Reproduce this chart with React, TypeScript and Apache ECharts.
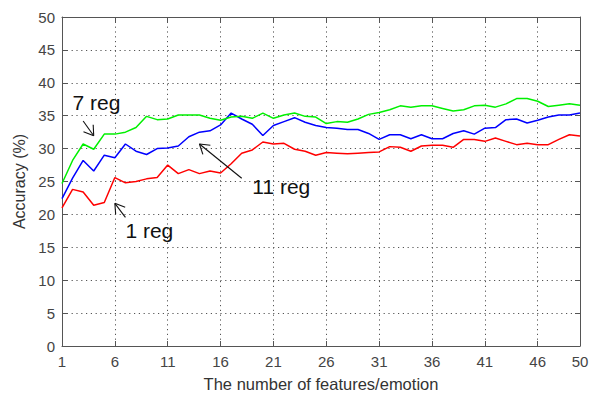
import React, { useEffect, useRef } from 'react';
import * as echarts from 'echarts';

// Number of selected features per emotion (x axis)
const featureCounts = [
  '1', '2', '3', '4', '5', '6', '7', '8', '9', '10',
  '11', '12', '13', '14', '15', '16', '17', '18', '19', '20',
  '21', '22', '23', '24', '25', '26', '27', '28', '29', '30',
  '31', '32', '33', '34', '35', '36', '37', '38', '39', '40',
  '41', '42', '43', '44', '45', '46', '47', '48', '49', '50',
];

// Accuracy (%) for one region
const accuracy1Reg = [
  21.0, 23.8, 23.4, 21.4, 21.8, 25.6, 24.8, 25.0, 25.4, 25.6,
  27.5, 26.2, 26.8, 26.2, 26.6, 26.3, 27.7, 29.3, 29.8, 31.0,
  30.7, 30.8, 29.9, 29.6, 29.0, 29.4, 29.3, 29.2, 29.3, 29.4,
  29.5, 30.3, 30.2, 29.6, 30.4, 30.5, 30.5, 30.2, 31.4, 31.4,
  31.1, 31.6, 31.1, 30.6, 30.8, 30.6, 30.6, 31.4, 32.1, 31.9,
];

// Accuracy (%) for seven regions
const accuracy7Reg = [
  24.7, 28.2, 30.7, 29.9, 32.2, 32.2, 32.5, 33.2, 34.9, 34.4,
  34.5, 35.1, 35.1, 35.1, 34.6, 34.3, 34.8, 34.9, 34.6, 35.4,
  34.6, 35.1, 35.4, 34.9, 34.8, 33.8, 34.1, 34.0, 34.5, 35.2,
  35.5, 35.9, 36.5, 36.3, 36.5, 36.5, 36.1, 35.7, 35.9, 36.5,
  36.6, 36.3, 36.8, 37.6, 37.6, 37.2, 36.4, 36.6, 36.8, 36.6,
];

// Accuracy (%) for eleven regions
const accuracy11Reg = [
  22.4, 25.5, 28.2, 26.6, 29.0, 28.6, 30.7, 29.6, 29.1, 30.0,
  30.1, 30.4, 31.8, 32.5, 32.7, 33.6, 35.4, 34.5, 33.7, 32.0,
  33.5, 34.1, 34.7, 34.0, 33.5, 33.2, 33.1, 32.9, 32.9, 32.3,
  31.4, 32.1, 32.1, 31.5, 32.1, 31.5, 31.5, 32.3, 32.7, 32.2,
  33.1, 33.2, 34.4, 34.5, 33.9, 34.3, 34.8, 35.1, 35.1, 35.4,
];

const yTicks = [0, 50];

// Callout labels with arrows, anchored in data units (feature count, accuracy)
const callouts = [
  { label: '7 reg', at: [1.76, 37.05], from: [3.36, 34.2], to: [4.05, 31.95] },
  { label: '1 reg', at: [7.33, 17.56], from: [7.12, 19.54], to: [5.63, 21.68] },
  { label: '11 reg', at: [18.58, 24.26], from: [18.1, 25.5], to: [14.04, 30.7] },
];

const FONT = '"Liberation Sans", Arial, sans-serif';
const AXIS_COLOR = '#555';
const GRID_DOT = { color: '#555', width: 1, type: [1.2, 3.6] as number[] };

const isMajor = (i: number) => i % 5 === 0 || i === featureCounts.length - 1;
const isGrid = (i: number) => i % 5 === 0 && i > 0 && i < featureCounts.length - 1;

export default function App() {
  const ref = useRef<HTMLDivElement>(null);

  useEffect(() => {
    if (!ref.current) return;
    const chart = echarts.init(ref.current, null, { renderer: 'svg' });

    const xBase = {
      type: 'category' as const,
      data: featureCounts,
      boundaryGap: false,
      axisLine: { show: true, onZero: false, lineStyle: { color: AXIS_COLOR, width: 1 } },
      axisTick: { show: true, inside: true, length: 5, interval: (i: number) => isMajor(i), lineStyle: { color: AXIS_COLOR } },
    };
    const yBase = {
      type: 'value' as const,
      min: yTicks[0],
      max: yTicks[1],
      interval: 5,
      axisLine: { show: true, onZero: false, lineStyle: { color: AXIS_COLOR, width: 1 } },
      axisTick: { show: true, inside: true, length: 5, lineStyle: { color: AXIS_COLOR } },
    };

    const line = (name: string, data: number[], color: string) => ({
      name,
      type: 'line' as const,
      data,
      xAxisIndex: 0,
      yAxisIndex: 0,
      showSymbol: false,
      symbol: 'none',
      lineStyle: { color, width: 1.5 },
      itemStyle: { color },
      z: 3,
    });

    chart.setOption({
      animation: false,
      backgroundColor: '#fff',
      grid: { left: 62, right: 12, top: 17, bottom: 44, containLabel: false },
      xAxis: [
        {
          ...xBase,
          position: 'bottom',
          name: 'The number of features/emotion',
          nameLocation: 'middle',
          nameGap: 29,
          nameTextStyle: { fontFamily: FONT, fontSize: 16.5, color: '#333' },
          axisLabel: {
            interval: (i: number) => isMajor(i),
            fontFamily: FONT,
            fontSize: 15,
            color: '#444',
            margin: 8,
          },
          splitLine: { show: true, interval: (i: number) => isGrid(i), lineStyle: GRID_DOT },
        },
        {
          ...xBase,
          position: 'top',
          axisLabel: { show: false },
          splitLine: { show: false },
        },
      ],
      yAxis: [
        {
          ...yBase,
          position: 'left',
          name: 'Accuracy (%)',
          nameLocation: 'middle',
          nameGap: 33,
          nameRotate: 90,
          nameTextStyle: { fontFamily: FONT, fontSize: 16, color: '#333' },
          axisLabel: { fontFamily: FONT, fontSize: 15, color: '#444', margin: 7 },
          splitLine: {
            show: true,
            lineStyle: GRID_DOT,
          },
        },
        {
          ...yBase,
          position: 'right',
          axisLabel: { show: false },
          splitLine: { show: false },
        },
      ],
      series: [
        line('1 reg', accuracy1Reg, '#ff0000'),
        line('11 reg', accuracy11Reg, '#0000ff'),
        line('7 reg', accuracy7Reg, '#00f000'),
      ],
    });

    // Callouts: text plus an open-headed arrow pointing at a curve
    const px = (p: number[]) =>
      chart.convertToPixel({ xAxisIndex: 0, yAxisIndex: 0 }, [p[0] - 1, p[1]]) as number[];
    const elements: any[] = [];
    const arrowStyle = { stroke: '#111', lineWidth: 1.1 };
    callouts.forEach((c) => {
      const t = px(c.at);
      elements.push({
        type: 'text',
        x: t[0],
        y: t[1],
        z: 10,
        style: {
          text: c.label,
          fontFamily: FONT,
          fontSize: 21,
          fill: '#111',
          verticalAlign: 'middle',
          align: 'left',
        },
      });
      const a = px(c.from);
      const b = px(c.to);
      elements.push({ type: 'line', z: 10, shape: { x1: a[0], y1: a[1], x2: b[0], y2: b[1] }, style: arrowStyle });
      const ang = Math.atan2(a[1] - b[1], a[0] - b[0]);
      const head = 11;
      const spread = Math.PI / 5.5;
      [ang - spread, ang + spread].forEach((h) => {
        elements.push({
          type: 'line',
          z: 10,
          shape: { x1: b[0], y1: b[1], x2: b[0] + head * Math.cos(h), y2: b[1] + head * Math.sin(h) },
          style: arrowStyle,
        });
      });
    });
    chart.setOption({ graphic: elements });

    return () => chart.dispose();
  }, []);

  return (
    <div
      ref={ref}
      style={{ position: 'fixed', left: 0, top: 0, width: 592, height: 397, background: '#fff' }}
    />
  );
}
